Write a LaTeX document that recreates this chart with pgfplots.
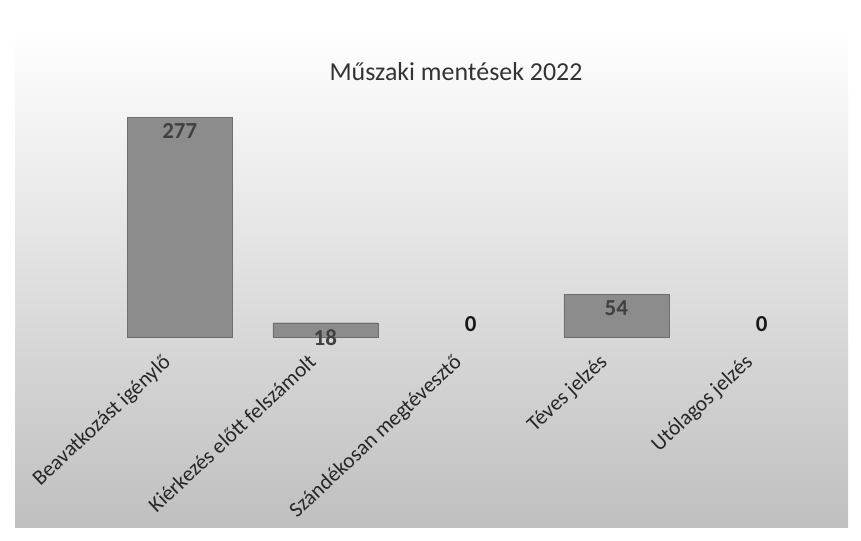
\documentclass[border=0pt]{standalone}
\usepackage{fontspec}
\setmainfont{Carlito}
\usepackage{pgfplots}
\pgfplotsset{compat=1.18}
\definecolor{barfill}{HTML}{8C8C8C}
\definecolor{barline}{HTML}{6E6E6E}
\definecolor{labeltext}{HTML}{404040}
\begin{document}
\begin{tikzpicture}[x=1bp,y=1bp]
% page and chart area
\path[use as bounding box, fill=white] (0,0) rectangle (861,541);
\shade[top color=white, middle color=black!10, bottom color=black!25] (15,13) rectangle (848,511);
\node[font=\fontsize{26}{30}\selectfont, text=black!80] at (456,469) {Műszaki mentések 2022};
\begin{axis}[
    at={(107bp,204bp)}, anchor=south west,
    scale only axis, width=727.5bp, height=238bp,
    xmin=-0.5, xmax=4.5, ymin=0, ymax=300,
    axis line style={draw=none},
    ytick=\empty, major tick length=0pt,
    xtick={0,1,2,3,4},
    xticklabels={Beavatkozást igénylő, Kiérkezés előtt felszámolt, Szándékosan megtévesztő, Téves jelzés, Utólagos jelzés},
    xticklabel style={rotate=43, anchor=north east, inner sep=0pt, xshift=-24bp, yshift=1bp,
        font=\fontsize{21.5}{24}\selectfont, text=black!85},
    /pgf/number format/assume math mode=true,
    ybar, bar width=105bp,
    clip=false,
]
\addplot[fill=barfill, draw=barline, bar shift=0pt,
    nodes near coords,
    every node near coord/.append style={anchor=north, yshift=-3bp,
        font=\bfseries\fontsize{23}{27}\selectfont, text=labeltext}]
    coordinates {(0,277) (1,18) (3,54)};
\addplot[draw=none, fill=none, bar shift=0pt,
    nodes near coords,
    every node near coord/.append style={anchor=south, yshift=2bp,
        font=\bfseries\fontsize{23}{27}\selectfont, text=black!90}]
    coordinates {(2,0) (4,0)};
\end{axis}
\end{tikzpicture}
\end{document}
